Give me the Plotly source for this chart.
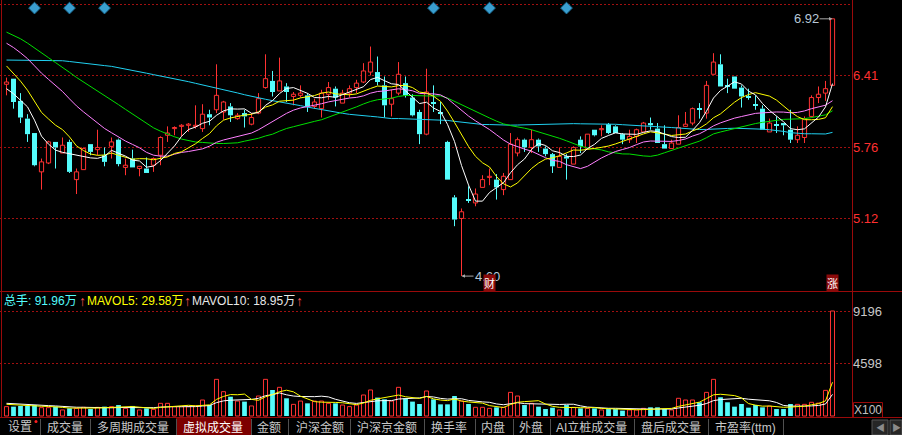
import plotly.graph_objects as go
import numpy as np
import pandas as pd

W, H = 902, 435

# ---------------- data ----------------
opens = [6.33, 6.38, 6.18, 6.02, 5.89, 5.54, 5.62, 5.81, 5.71, 5.81,
         5.47, 5.56, 5.79, 5.74, 5.69, 5.77, 5.83, 5.58, 5.66, 5.57,
         5.57, 5.60, 5.69, 5.87, 5.93, 5.95, 5.96, 5.95, 5.93, 6.06,
         6.10, 6.08, 6.13, 6.02, 6.07, 5.97, 6.07, 6.30, 6.36, 6.27,
         6.31, 6.22, 6.23, 6.23, 6.13, 6.11, 6.24, 6.29, 6.16, 6.25,
         6.30, 6.35, 6.44, 6.44, 6.32, 6.15, 6.25, 6.34, 6.21, 6.08,
         5.88, 6.17, 6.08, 5.81, 5.31, 5.12, 5.29, 5.26, 5.40, 5.49,
         5.47, 5.38, 5.47, 5.71, 5.83, 5.76, 5.83, 5.75, 5.70, 5.58,
         5.68, 5.61, 5.83, 5.75, 5.92, 5.92, 5.97, 5.95, 5.88, 5.83,
         5.86, 5.90, 5.98, 5.93, 5.79, 5.75, 5.79, 5.95, 5.98, 6.11,
         6.07, 6.42, 6.51, 6.32, 6.40, 6.30, 6.22, 6.15, 6.11, 5.90,
         5.97, 5.98, 5.92, 5.83, 5.85, 6.04, 6.21, 6.25, 6.32]
highs = [6.39, 6.38, 6.25, 6.06, 5.89, 5.66, 5.82, 5.81, 5.85, 5.83,
         5.57, 5.76, 5.79, 5.92, 5.76, 5.85, 5.84, 5.66, 5.74, 5.59,
         5.67, 5.67, 5.86, 5.95, 5.95, 5.97, 5.98, 6.14, 6.15, 6.10,
         6.51, 6.18, 6.16, 6.07, 6.10, 6.07, 6.25, 6.60, 6.45, 6.57,
         6.34, 6.26, 6.32, 6.25, 6.20, 6.28, 6.35, 6.31, 6.28, 6.32,
         6.37, 6.52, 6.67, 6.58, 6.40, 6.28, 6.53, 6.40, 6.24, 6.10,
         6.47, 6.32, 6.17, 5.82, 5.33, 5.21, 5.41, 5.39, 5.51, 5.57,
         5.52, 5.53, 5.89, 5.85, 5.84, 5.92, 5.84, 5.77, 5.71, 5.76,
         5.70, 5.77, 5.86, 5.88, 5.92, 5.96, 5.98, 5.96, 5.89, 5.92,
         5.93, 5.99, 6.03, 5.98, 5.96, 5.83, 6.05, 6.08, 6.12, 6.16,
         6.36, 6.61, 6.60, 6.38, 6.40, 6.32, 6.29, 6.23, 6.14, 6.02,
         6.04, 5.98, 6.10, 5.95, 6.04, 6.23, 6.31, 6.36, 6.92]
lows = [6.23, 6.11, 5.98, 5.81, 5.59, 5.38, 5.61, 5.57, 5.71, 5.53,
        5.34, 5.56, 5.69, 5.69, 5.59, 5.66, 5.59, 5.51, 5.58, 5.50,
        5.53, 5.54, 5.60, 5.81, 5.87, 5.86, 5.90, 5.93, 5.90, 5.96,
        6.07, 6.01, 5.99, 6.01, 5.94, 5.96, 6.06, 6.29, 6.22, 6.27,
        6.17, 6.14, 6.21, 6.08, 6.11, 6.03, 6.19, 6.13, 6.16, 6.21,
        6.25, 6.34, 6.41, 6.32, 6.03, 6.04, 6.23, 6.21, 6.04, 5.79,
        5.87, 6.08, 5.97, 5.47, 5.05, 4.60, 5.26, 5.23, 5.40, 5.42,
        5.29, 5.33, 5.47, 5.68, 5.72, 5.71, 5.72, 5.68, 5.53, 5.58,
        5.47, 5.61, 5.71, 5.75, 5.86, 5.86, 5.88, 5.89, 5.79, 5.80,
        5.80, 5.90, 5.92, 5.80, 5.75, 5.75, 5.79, 5.95, 5.96, 6.02,
        6.02, 6.42, 6.31, 6.25, 6.29, 6.12, 6.19, 6.10, 5.92, 5.90,
        5.89, 5.87, 5.80, 5.80, 5.80, 6.03, 6.16, 6.18, 6.32]
closes = [6.35, 6.17, 6.03, 5.88, 5.60, 5.63, 5.81, 5.76, 5.78, 5.54,
          5.54, 5.75, 5.72, 5.76, 5.63, 5.81, 5.61, 5.60, 5.58, 5.59,
          5.53, 5.66, 5.85, 5.89, 5.94, 5.96, 5.97, 5.96, 6.06, 6.03,
          6.23, 6.17, 6.05, 6.05, 6.04, 6.03, 6.20, 6.38, 6.26, 6.36,
          6.26, 6.24, 6.25, 6.13, 6.17, 6.25, 6.30, 6.21, 6.25, 6.29,
          6.34, 6.45, 6.53, 6.35, 6.14, 6.20, 6.42, 6.23, 6.05, 5.88,
          6.26, 6.16, 6.07, 5.47, 5.11, 5.18, 5.28, 5.34, 5.47, 5.50,
          5.40, 5.50, 5.79, 5.83, 5.76, 5.83, 5.77, 5.70, 5.59, 5.68,
          5.66, 5.76, 5.77, 5.88, 5.87, 5.93, 5.89, 5.89, 5.83, 5.86,
          5.92, 5.98, 5.96, 5.80, 5.75, 5.80, 5.94, 5.97, 6.11, 6.10,
          6.32, 6.53, 6.31, 6.31, 6.29, 6.22, 6.21, 6.14, 5.92, 5.98,
          5.96, 5.96, 5.83, 5.87, 6.02, 6.21, 6.24, 6.29, 6.92]
# volume, in units of 100 hands (axis "X100")
volumes = [820, 820, 880, 880, 960, 730, 730, 820, 530, 670,
           670, 760, 610, 760, 820, 820, 960, 670, 880, 530,
           670, 580, 1110, 1110, 820, 820, 820, 880, 1400, 960,
           3210, 2130, 1690, 1310, 1260, 880, 1750, 3210, 2280, 2510,
           1550, 1020, 1310, 1110, 1310, 1310, 1110, 1110, 960, 820,
           960, 1840, 2280, 1610, 1460, 1310, 2510, 1550, 1260, 1050,
           2190, 1460, 1020, 1020, 1750, 1310, 1050, 760, 760, 670,
           760, 760, 2070, 1750, 960, 1110, 820, 610, 730, 530,
           960, 760, 670, 670, 670, 530, 610, 610, 470, 530,
           530, 670, 760, 760, 610, 530, 1550, 1400, 1400, 1200,
           2070, 3210, 1640, 1200, 820, 1050, 730, 960, 760, 870,
           610, 610, 1050, 1020, 1020, 1200, 1130, 2245, 9196]
# closes / volumes before the visible window, estimated from the starting levels of the MA lines
prior_close = [6.20, 6.05, 5.90, 5.75, 5.70, 5.78, 5.80, 5.85,
               5.95, 6.05, 6.10, 6.15, 6.12, 6.20,
               6.22, 6.28, 6.25, 6.32, 6.35, 6.40, 6.45,
               6.55, 6.62, 6.70, 6.75, 6.80, 6.85, 6.88, 6.92, 6.95,
               6.98, 7.02, 7.05, 7.00, 6.96, 7.03, 7.08, 7.01, 6.95, 6.92,
               6.95, 6.98, 6.93, 6.90, 6.96, 6.92, 6.88, 6.85, 6.87, 6.81,
               6.82, 6.75, 6.70, 6.65, 6.58,
               6.40, 6.32, 6.18, 6.20]
prior_volume = [1250, 1150, 1300, 1100, 1200, 1050, 1100, 1000, 1150]
event_idx = [4, 9, 14, 61, 69, 80]
price_ticks = [5.12, 5.76, 6.41, 7.05]
vol_ticks = [4598, 9196]
ma_periods = [5, 10, 20, 30, 60]
mavol_periods = [5, 10]
tab_labels = ["设置", "成交量", "多周期成交量", "虚拟成交量", "金额", "沪深金额", "沪深京金额",
              "换手率", "内盘", "外盘", "AI立桩成交量", "盘后成交量", "市盈率(ttm)"]

# ---------------- styling / layout constants ----------------
RED = "#ff3232"
CYAN = "#54fcfc"
GRID = "#a01010"
FRAME = "#9a0a0a"
MA_COLORS = {5: "#ffffff", 10: "#ffff00", 20: "#ff80ff", 30: "#00e000", 60: "#20d0f0"}
MAVOL_COLORS = {5: "#ffff00", 10: "#ffffff"}
FONT = "Liberation Sans, Arial, Noto Sans CJK SC, sans-serif"
CJK = "Noto Sans CJK SC, Liberation Sans, sans-serif"

PLOT_R = 852            # right edge of plotting area (px)
STEP = 7.0              # px per candle
X0 = 6.5                # px of first candle centre
X_LO = -X0 / STEP
X_HI = (PLOT_R - X0) / STEP
PX_PER_UNIT = 110.9
P_HI = 7.05 + 4.4 / PX_PER_UNIT
P_LO = 7.05 - (291 - 4.4) / PX_PER_UNIT
VOL_PER_PX = 9196 / (416 - 311)
V_LO = -(418 - 416) * VOL_PER_PX
V_HI = (416 - 292) * VOL_PER_PX


def px(xp):
    return xp / W


def py(yp):
    return 1 - yp / H


n = len(closes)
idx = np.arange(n)
allc = pd.Series(prior_close + closes, dtype=float)
ma = {p: allc.rolling(p).mean().to_numpy()[len(prior_close):] for p in ma_periods}
allv = pd.Series(prior_volume + volumes, dtype=float)
mavol = {p: allv.rolling(p).mean().to_numpy()[len(prior_volume):] for p in mavol_periods}

o = np.array(opens); h = np.array(highs); l = np.array(lows); c = np.array(closes)
v = np.array(volumes)
up = c >= o
dn = ~up
top = np.maximum(o, c)
bot = np.minimum(o, c)
body = np.maximum(top - bot, 0.006)

fig = go.Figure()


def wicks(mask):
    xs, ys = [], []
    for i in idx[mask]:
        if h[i] > top[i]:
            xs += [i, i, None]; ys += [top[i], h[i], None]
        if l[i] < bot[i]:
            xs += [i, i, None]; ys += [bot[i], l[i], None]
    return xs, ys


# candle bodies
fig.add_trace(go.Bar(x=idx[dn], y=body[dn], base=bot[dn], width=0.72,
                     marker=dict(color=CYAN, line=dict(width=0)), xaxis="x", yaxis="y"))
fig.add_trace(go.Bar(x=idx[up], y=body[up], base=bot[up], width=0.6,
                     marker=dict(color="#000000", line=dict(color=RED, width=1)), xaxis="x", yaxis="y"))
for mask, col in ((dn, CYAN), (up, RED)):
    xs, ys = wicks(mask)
    fig.add_trace(go.Scatter(x=xs, y=ys, mode="lines", line=dict(color=col, width=1),
                             xaxis="x", yaxis="y", hoverinfo="skip"))
# moving averages
for p in [60, 30, 20, 10, 5]:
    fig.add_trace(go.Scatter(x=idx, y=ma[p], mode="lines",
                             line=dict(color=MA_COLORS[p], width=1), xaxis="x", yaxis="y"))
# event diamonds
fig.add_trace(go.Scatter(x=event_idx, y=[7.017] * len(event_idx), mode="markers",
                         marker=dict(symbol="diamond", size=9, color="#3a9fd0",
                                     line=dict(color="#1d6f98", width=1)),
                         xaxis="x", yaxis="y"))

# volume
fig.add_trace(go.Bar(x=idx[dn], y=v[dn], width=0.68,
                     marker=dict(color=CYAN, line=dict(width=0)), xaxis="x2", yaxis="y2"))
fig.add_trace(go.Bar(x=idx[up], y=v[up], width=0.58,
                     marker=dict(color="#000000", line=dict(color=RED, width=1)), xaxis="x2", yaxis="y2"))
for p in [10, 5]:
    fig.add_trace(go.Scatter(x=idx, y=mavol[p], mode="lines",
                             line=dict(color=MAVOL_COLORS[p], width=1), xaxis="x2", yaxis="y2"))

# ---------------- annotations ----------------
ann = []


def label(xp, yp, text, size, color, family=FONT, xanchor="center", **kw):
    ann.append(dict(x=px(xp), y=py(yp), xref="paper", yref="paper", text=text, showarrow=False,
                    xanchor=xanchor, yanchor="middle", font=dict(family=family, size=size, color=color), **kw))


imax = int(np.argmax(h)); imin = int(np.argmin(l))
ann.append(dict(x=imax, y=h[imax], xref="x", yref="y", text=f"{h[imax]:.2f}", showarrow=True,
                ax=-13, ay=0, xanchor="right", yanchor="middle", arrowhead=2, arrowsize=0.7, arrowwidth=1,
                arrowcolor="#a8a8a8", font=dict(family=FONT, size=13, color="#b8c8d8"), borderpad=0))
ann.append(dict(x=imin, y=l[imin], xref="x", yref="y", text=f"{l[imin]:.2f}", showarrow=True,
                ax=12, ay=0, xanchor="left", yanchor="middle", arrowhead=2, arrowsize=0.7, arrowwidth=1,
                arrowcolor="#a8a8a8", font=dict(family=FONT, size=13, color="#b8c8d8"), borderpad=0))
for xi, t in ((69, "财"), (n - 1, "涨")):
    ann.append(dict(x=xi, y=py(283), xref="x", yref="paper", text=t, showarrow=False,
                    xanchor="center", yanchor="middle",
                    bgcolor="#8b0a0a", font=dict(family=CJK, size=11, color="#ffffff"),
                    borderpad=0))

hdr = [
    (2, f"总手: {v[-1] / 100:.2f}万", CYAN, 12),
    (77, "<b>↑</b>", "#ff5050", 14),
    (85, f"MAVOL5: {mavol[5][-1] / 100:.2f}万", "#ffff00", 12),
    (182, "<b>↑</b>", "#ff5050", 14),
    (190, f"MAVOL10: {mavol[10][-1] / 100:.2f}万", "#e8e8e8", 12),
    (294, "<b>↑</b>", "#ff5050", 14),
]
for xp, t, col, sz in hdr:
    label(xp, 301, t, sz, col, xanchor="left")

label(868, 409.5, "X100", 12, "#c0c0c0")

# tab bar
tab_centers = [20, 64.5, 132.5, 212.5, 268.5, 320, 387, 449, 493, 530.5, 591.5, 671, 745]
tab_seps = [40, 90, 176, 251, 288, 350, 424, 475, 513, 550, 634, 708, 783]
for xc, t in zip(tab_centers, tab_labels):
    label(xc, 427, t, 12, "#ffffff" if t == "虚拟成交量" else "#c8c8c8", family=FONT)
label(880, 427.5, "◀", 9, "#8a8a8a")
label(896, 427.5, "▶", 9, "#8a8a8a")

shapes = []
# selected tab background
shapes.append(dict(type="rect", xref="paper", yref="paper", x0=px(176), x1=px(251), y0=py(435), y1=py(418),
                   fillcolor="#7d0000", line=dict(width=0), layer="below"))
for xs_ in tab_seps:
    shapes.append(dict(type="line", xref="paper", yref="paper", x0=px(xs_ + 0.5), x1=px(xs_ + 0.5),
                       y0=py(419), y1=py(435), line=dict(color="#505050", width=1)))
shapes.append(dict(type="circle", xref="paper", yref="paper", x0=px(34.5), x1=px(37.5),
                   y0=py(423), y1=py(420), fillcolor="#ff2020", line=dict(width=0)))
for a, b in ((872, 888), (890, 902)):
    shapes.append(dict(type="rect", xref="paper", yref="paper", x0=px(a), x1=px(b), y0=py(435), y1=py(420),
                       fillcolor="#262626", line=dict(color="#555555", width=1)))
# frame lines
shapes.append(dict(type="line", xref="paper", yref="paper", x0=px(1.5), x1=px(1.5), y0=py(0), y1=py(417),
                   line=dict(color=FRAME, width=1)))
shapes.append(dict(type="line", xref="paper", yref="paper", x0=px(PLOT_R + 0.5), x1=px(PLOT_R + 0.5),
                   y0=py(0), y1=py(417), line=dict(color=FRAME, width=1)))
shapes.append(dict(type="line", xref="paper", yref="paper", x0=0, x1=1, y0=py(291.5), y1=py(291.5),
                   line=dict(color=FRAME, width=1)))
shapes.append(dict(type="line", xref="paper", yref="paper", x0=0, x1=1, y0=py(417.5), y1=py(417.5),
                   line=dict(color=FRAME, width=1)))
shapes.append(dict(type="rect", xref="paper", yref="paper", x0=px(853.5), x1=px(882.5), y0=py(417.5),
                   y1=py(402.5), line=dict(color=FRAME, width=1)))

axis_common = dict(showgrid=False, zeroline=False, showticklabels=False, ticks="", fixedrange=True)
fig.update_layout(
    width=W, height=H, margin=dict(l=0, r=0, t=0, b=0),
    paper_bgcolor="#000000", plot_bgcolor="#000000",
    showlegend=False, hovermode=False, barmode="overlay",
    xaxis=dict(domain=[0, PLOT_R / W], range=[X_LO, X_HI], anchor="y", **axis_common),
    xaxis2=dict(domain=[0, PLOT_R / W], range=[X_LO, X_HI], anchor="y2", **axis_common),
    yaxis=dict(domain=[py(291), 1], range=[P_LO, P_HI], anchor="x", side="right",
               tickvals=price_ticks, ticktext=[f"{t:.2f}" for t in price_ticks],
               tickfont=dict(family=FONT, size=13, color="#ff3030"), ticks="",
               showgrid=True, gridcolor=GRID, griddash="2px,2px", gridwidth=1,
               zeroline=False, showline=False, fixedrange=True),
    yaxis2=dict(domain=[py(418), py(292)], range=[V_LO, V_HI], anchor="x2", side="right",
                tickvals=vol_ticks, ticktext=[str(t) for t in vol_ticks],
                tickfont=dict(family=FONT, size=13, color="#c8c8c8"), ticks="",
                showgrid=True, gridcolor=GRID, griddash="2px,2px", gridwidth=1,
                zeroline=False, showline=False, fixedrange=True),
    annotations=ann, shapes=shapes,
)

fig.write_html("out.html", config={"displayModeBar": False},
               post_script="document.body.style.margin='0';document.body.style.overflow='hidden';")
